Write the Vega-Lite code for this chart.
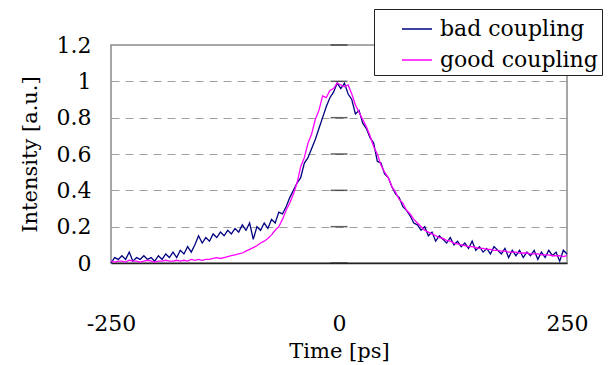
{
  "$schema": "https://vega.github.io/schema/vega-lite/v6.json",
  "width": 456,
  "height": 218,
  "autosize": "none",
  "padding": {"left": 111, "top": 45, "right": 41, "bottom": 102},
  "background": "white",
  "config": {
    "font": "DejaVu Serif",
    "view": {"stroke": "#8a8a8a", "strokeWidth": 1.5},
    "axis": {"labelFont": "DejaVu Serif", "titleFont": "DejaVu Serif", "labelColor": "black", "titleColor": "black", "titleFontWeight": "normal"},
    "legend": {"labelFont": "DejaVu Serif"}
  },
  "datasets": {
    "curves": [
      {"t": -250, "bad": 0.00, "good": 0.010},
      {"t": -246, "bad": 0.03, "good": 0.005},
      {"t": -242, "bad": 0.02, "good": 0.010},
      {"t": -238, "bad": 0.04, "good": 0.010},
      {"t": -234, "bad": 0.02, "good": 0.005},
      {"t": -230, "bad": 0.06, "good": 0.015},
      {"t": -226, "bad": 0.01, "good": 0.010},
      {"t": -222, "bad": 0.03, "good": 0.010},
      {"t": -218, "bad": 0.02, "good": 0.005},
      {"t": -214, "bad": 0.04, "good": 0.010},
      {"t": -210, "bad": 0.02, "good": 0.015},
      {"t": -206, "bad": 0.03, "good": 0.010},
      {"t": -202, "bad": 0.01, "good": 0.005},
      {"t": -198, "bad": 0.04, "good": 0.010},
      {"t": -194, "bad": 0.02, "good": 0.010},
      {"t": -190, "bad": 0.05, "good": 0.015},
      {"t": -186, "bad": 0.03, "good": 0.010},
      {"t": -182, "bad": 0.06, "good": 0.010},
      {"t": -178, "bad": 0.03, "good": 0.015},
      {"t": -174, "bad": 0.07, "good": 0.010},
      {"t": -170, "bad": 0.05, "good": 0.015},
      {"t": -166, "bad": 0.09, "good": 0.010},
      {"t": -162, "bad": 0.06, "good": 0.020},
      {"t": -158, "bad": 0.10, "good": 0.015},
      {"t": -154, "bad": 0.15, "good": 0.020},
      {"t": -150, "bad": 0.11, "good": 0.015},
      {"t": -146, "bad": 0.14, "good": 0.020},
      {"t": -142, "bad": 0.12, "good": 0.020},
      {"t": -138, "bad": 0.16, "good": 0.025},
      {"t": -134, "bad": 0.14, "good": 0.030},
      {"t": -130, "bad": 0.17, "good": 0.025},
      {"t": -126, "bad": 0.15, "good": 0.030},
      {"t": -122, "bad": 0.18, "good": 0.035},
      {"t": -118, "bad": 0.16, "good": 0.040},
      {"t": -114, "bad": 0.19, "good": 0.045},
      {"t": -110, "bad": 0.17, "good": 0.050},
      {"t": -106, "bad": 0.21, "good": 0.055},
      {"t": -102, "bad": 0.18, "good": 0.065},
      {"t": -98, "bad": 0.22, "good": 0.075},
      {"t": -94, "bad": 0.13, "good": 0.085},
      {"t": -90, "bad": 0.20, "good": 0.095},
      {"t": -86, "bad": 0.18, "good": 0.110},
      {"t": -82, "bad": 0.22, "good": 0.120},
      {"t": -78, "bad": 0.19, "good": 0.135},
      {"t": -74, "bad": 0.24, "good": 0.155},
      {"t": -70, "bad": 0.22, "good": 0.180},
      {"t": -66, "bad": 0.28, "good": 0.200},
      {"t": -62, "bad": 0.27, "good": 0.240},
      {"t": -58, "bad": 0.31, "good": 0.290},
      {"t": -54, "bad": 0.36, "good": 0.330},
      {"t": -50, "bad": 0.40, "good": 0.380},
      {"t": -46, "bad": 0.44, "good": 0.440},
      {"t": -42, "bad": 0.47, "good": 0.530},
      {"t": -38, "bad": 0.55, "good": 0.580},
      {"t": -34, "bad": 0.58, "good": 0.660},
      {"t": -30, "bad": 0.63, "good": 0.710},
      {"t": -26, "bad": 0.68, "good": 0.790},
      {"t": -22, "bad": 0.74, "good": 0.840},
      {"t": -18, "bad": 0.80, "good": 0.920},
      {"t": -14, "bad": 0.86, "good": 0.910},
      {"t": -10, "bad": 0.91, "good": 0.950},
      {"t": -6, "bad": 0.94, "good": 0.960},
      {"t": -2, "bad": 0.99, "good": 0.990},
      {"t": 2, "bad": 0.96, "good": 0.980},
      {"t": 6, "bad": 0.99, "good": 0.970},
      {"t": 10, "bad": 0.93, "good": 0.980},
      {"t": 14, "bad": 0.90, "good": 0.930},
      {"t": 18, "bad": 0.82, "good": 0.870},
      {"t": 22, "bad": 0.84, "good": 0.830},
      {"t": 26, "bad": 0.77, "good": 0.790},
      {"t": 30, "bad": 0.74, "good": 0.750},
      {"t": 34, "bad": 0.69, "good": 0.700},
      {"t": 38, "bad": 0.66, "good": 0.640},
      {"t": 42, "bad": 0.56, "good": 0.600},
      {"t": 46, "bad": 0.55, "good": 0.540},
      {"t": 50, "bad": 0.49, "good": 0.500},
      {"t": 54, "bad": 0.47, "good": 0.470},
      {"t": 58, "bad": 0.42, "good": 0.420},
      {"t": 62, "bad": 0.38, "good": 0.390},
      {"t": 66, "bad": 0.36, "good": 0.350},
      {"t": 70, "bad": 0.31, "good": 0.330},
      {"t": 74, "bad": 0.29, "good": 0.290},
      {"t": 78, "bad": 0.26, "good": 0.270},
      {"t": 82, "bad": 0.22, "good": 0.240},
      {"t": 86, "bad": 0.21, "good": 0.220},
      {"t": 90, "bad": 0.18, "good": 0.200},
      {"t": 94, "bad": 0.20, "good": 0.180},
      {"t": 98, "bad": 0.15, "good": 0.170},
      {"t": 102, "bad": 0.17, "good": 0.160},
      {"t": 106, "bad": 0.12, "good": 0.150},
      {"t": 110, "bad": 0.15, "good": 0.140},
      {"t": 114, "bad": 0.13, "good": 0.135},
      {"t": 118, "bad": 0.11, "good": 0.125},
      {"t": 122, "bad": 0.14, "good": 0.120},
      {"t": 126, "bad": 0.10, "good": 0.110},
      {"t": 130, "bad": 0.12, "good": 0.105},
      {"t": 134, "bad": 0.09, "good": 0.100},
      {"t": 138, "bad": 0.11, "good": 0.095},
      {"t": 142, "bad": 0.08, "good": 0.090},
      {"t": 146, "bad": 0.12, "good": 0.090},
      {"t": 150, "bad": 0.07, "good": 0.085},
      {"t": 154, "bad": 0.09, "good": 0.080},
      {"t": 158, "bad": 0.06, "good": 0.080},
      {"t": 162, "bad": 0.08, "good": 0.075},
      {"t": 166, "bad": 0.05, "good": 0.075},
      {"t": 170, "bad": 0.09, "good": 0.070},
      {"t": 174, "bad": 0.07, "good": 0.070},
      {"t": 178, "bad": 0.05, "good": 0.065},
      {"t": 182, "bad": 0.08, "good": 0.065},
      {"t": 186, "bad": 0.03, "good": 0.060},
      {"t": 190, "bad": 0.07, "good": 0.060},
      {"t": 194, "bad": 0.04, "good": 0.060},
      {"t": 198, "bad": 0.07, "good": 0.055},
      {"t": 202, "bad": 0.03, "good": 0.055},
      {"t": 206, "bad": 0.06, "good": 0.055},
      {"t": 210, "bad": 0.04, "good": 0.050},
      {"t": 214, "bad": 0.07, "good": 0.050},
      {"t": 218, "bad": 0.02, "good": 0.050},
      {"t": 222, "bad": 0.06, "good": 0.045},
      {"t": 226, "bad": 0.03, "good": 0.045},
      {"t": 230, "bad": 0.07, "good": 0.045},
      {"t": 234, "bad": 0.04, "good": 0.040},
      {"t": 238, "bad": 0.06, "good": 0.040},
      {"t": 242, "bad": 0.01, "good": 0.040},
      {"t": 246, "bad": 0.07, "good": 0.035},
      {"t": 250, "bad": 0.05, "good": 0.040}
    ],
    "levels": [
      {"y": 0}, {"y": 0.2}, {"y": 0.4}, {"y": 0.6}, {"y": 0.8}, {"y": 1.0}, {"y": 1.2}
    ]
  },
  "layer": [
    {
      "data": {"name": "curves"},
      "transform": [
        {"fold": ["bad", "good"], "as": ["key", "v"]},
        {"lookup": "key", "from": {"data": {"values": [{"key": "bad", "series": "bad coupling"}, {"key": "good", "series": "good coupling"}]}, "key": "key", "fields": ["series"]}}
      ],
      "mark": {"type": "line", "strokeWidth": 1.3},
      "encoding": {
        "x": {
          "field": "t", "type": "quantitative",
          "scale": {"domain": [-250, 250], "nice": false, "zero": false},
          "axis": {
            "values": [-250, 0, 250], "tickCount": 10, "labelExpr": "'' + datum.value",
            "grid": false, "ticks": false, "domainColor": "#222222", "domainWidth": 1.5,
            "labelFontSize": 22, "labelPadding": 50, "labelFlush": false, "labelOverlap": false,
            "title": "Time [ps]", "titleFontSize": 21, "titleY": 94, "titleBaseline": "alphabetic"
          }
        },
        "y": {
          "field": "v", "type": "quantitative",
          "scale": {"domain": [0, 1.2], "nice": false},
          "axis": {
            "values": [0, 0.2, 0.4, 0.6, 0.8, 1.0, 1.2], "tickCount": 10, "format": "~g",
            "domain": false, "ticks": false, "labelOverlap": false,
            "grid": true, "gridColor": "#a0a0a0", "gridDash": [8, 6], "gridWidth": 1.2,
            "gridOpacity": {"condition": {"test": "datum.value > 0.1 && datum.value < 1.1", "value": 1}, "value": 0},
            "labelFontSize": 22, "labelPadding": 20,
            "title": "Intensity [a.u.]", "titleFontSize": 21,
            "titleX": -81, "titleY": 109, "titleAngle": 270, "titleAlign": "center", "titleBaseline": "middle"
          }
        },
        "color": {
          "field": "series", "type": "nominal",
          "scale": {"domain": ["bad coupling", "good coupling"], "range": ["#000080", "#ff00ff"]},
          "legend": {
            "title": null, "orient": "none", "legendX": 263, "legendY": -36,
            "symbolType": "stroke", "symbolSize": 900, "symbolStrokeWidth": 1.5,
            "symbolOffset": 23, "labelOffset": 7,
            "labelFont": "DejaVu Serif", "labelFontSize": 22, "labelColor": "black", "labelLimit": 400,
            "strokeColor": "#222222", "fillColor": "white", "padding": 4, "rowPadding": 4
          }
        }
      }
    },
    {
      "mark": {"type": "rule", "color": "black", "strokeWidth": 1.2},
      "encoding": {"x": {"datum": 0, "type": "quantitative"}}
    },
    {
      "data": {"name": "levels"},
      "mark": {"type": "tick", "orient": "horizontal", "color": "#222222", "size": 17, "thickness": 1.5},
      "encoding": {
        "x": {"datum": 0, "type": "quantitative"},
        "y": {"field": "y", "type": "quantitative"}
      }
    }
  ]
}
